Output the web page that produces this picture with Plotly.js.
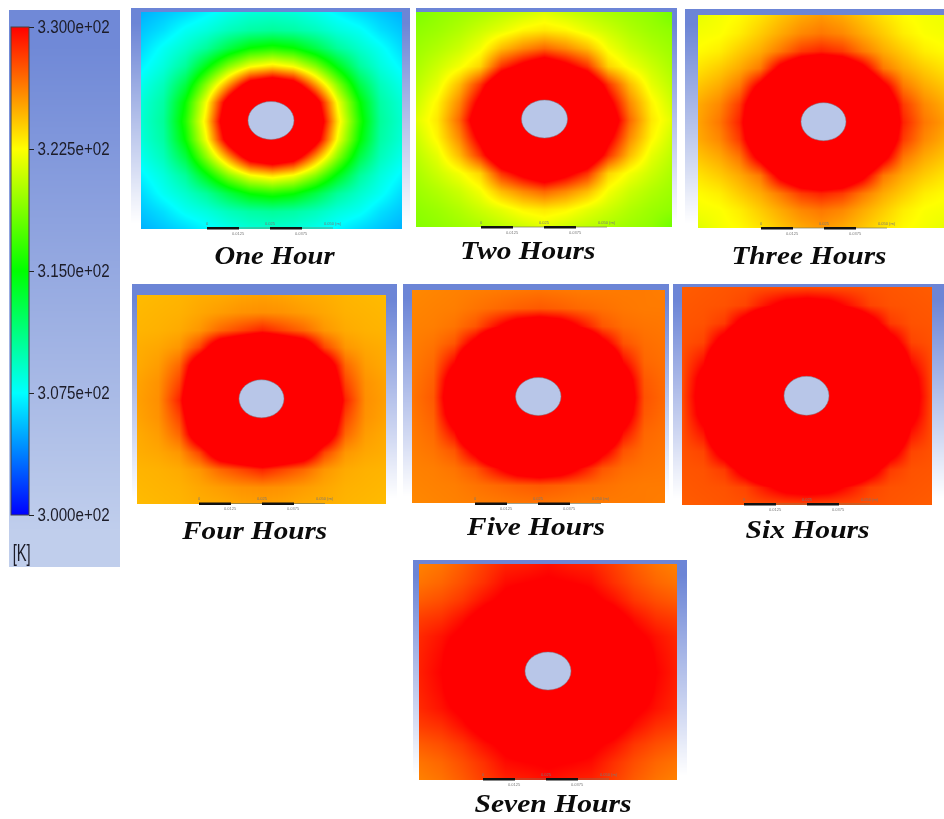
<!DOCTYPE html>
<html><head><meta charset="utf-8">
<script src="https://cdn.plot.ly/plotly-3.0.1.min.js"></script>
<style>html,body{margin:0;padding:0;background:#fff}#chart{width:944px;height:819px;filter:blur(0.45px)}</style>
</head><body><div id="chart"></div>
<script>
// Temperature fields in kelvin (13 x 13 nodes, top row first)
var gridNodes = [-1,-0.8333,-0.6667,-0.5,-0.3333,-0.1667,0,0.1667,0.3333,0.5,0.6667,0.8333,1];
var oneHour = [
[305.2,305.8,306.4,307.2,308,308.6,308.8,308.6,308,307.2,306.4,305.8,305.2],
[305.8,306.6,307.8,308.5,309.5,310.2,310.5,310.2,309.5,308.5,307.8,306.6,305.8],
[306.4,307.8,309,310.5,313,315.2,316,315.2,313,310.5,309,307.8,306.4],
[307.2,308.5,310.5,314.5,319,322.3,323.5,322.3,319,314.5,310.5,308.5,307.2],
[308,309.5,313,319,325.5,332,334,332,325.5,319,313,309.5,308],
[308.6,310.2,315.2,322.3,332,340,340,340,332,322.3,315.2,310.2,308.6],
[308.8,310.5,316,323.5,334,340,340,340,334,323.5,316,310.5,308.8],
[308.6,310.2,315.2,322.3,332,340,340,340,332,322.3,315.2,310.2,308.6],
[308,309.5,313,319,325.5,332,334,332,325.5,319,313,309.5,308],
[307.2,308.5,310.5,314.5,319,322.3,323.5,322.3,319,314.5,310.5,308.5,307.2],
[306.4,307.8,309,310.5,313,315.2,316,315.2,313,310.5,309,307.8,306.4],
[305.8,306.6,307.8,308.5,309.5,310.2,310.5,310.2,309.5,308.5,307.8,306.6,305.8],
[305.2,305.8,306.4,307.2,308,308.6,308.8,308.6,308,307.2,306.4,305.8,305.2]];
var twoHours = [
[318.7,319.2,319.6,320,320.5,321,321.6,321,320.5,320,319.6,319.2,318.4],
[319.2,319.6,320.2,321,321.8,322.8,323.2,322.8,321.8,321,320.2,319.6,319.2],
[319.6,320.2,321,322.2,324.5,326,327,326,324.5,322.2,321,320.2,319.6],
[320,321,322.2,323.8,328.5,331,333,331,328.5,323.8,322.2,321,320],
[320.5,321.8,324.5,328.5,334,338,340,338,334,328.5,324.5,321.8,320.5],
[321,322.8,326,331,338,343,345,343,338,331,326,322.8,321],
[321.6,323.2,327,333,340,345,345,345,340,333,327,323.2,321.6],
[321,322.8,326,331,338,343,345,343,338,331,326,322.8,321],
[320.5,321.8,324.5,328.5,334,338,340,338,334,328.5,324.5,321.8,320.5],
[320,321,322.2,323.8,328.5,331,333,331,328.5,323.8,322.2,321,320],
[319.6,320.2,321,322.2,324.5,326,327,326,324.5,322.2,321,320.2,319.6],
[319.2,319.6,320.2,321,321.8,322.8,323.2,322.8,321.8,321,320.2,319.6,319.2],
[318.9,319.2,319.6,320,320.5,321,321.6,321,320.5,320,319.6,319.2,318.2]];
var threeHours = [
[321.8,322.2,322.6,323.3,324.2,325,325.5,325,324.2,323.3,322.6,322.2,322],
[322.2,322.4,323,324,325,326,326.5,326,325,324,323,322.4,322.2],
[322.6,323,324,325,326.5,328.3,329,328.3,326.5,325,324,323,322.6],
[323.3,324,325,326.5,331,334,335,334,331,326.5,325,324,323.3],
[324.2,325,326.5,331,336,339,340,339,336,331,326.5,325,324.2],
[325,326,328.3,334,339,343,345,343,339,334,328.3,326,325],
[325.2,326.5,329,335,340,345,345,345,340,335,329,326.5,325.5],
[325,326,328.3,334,339,343,345,343,339,334,328.3,326,325],
[324.2,325,326.5,331,336,339,340,339,336,331,326.5,325,324.2],
[323.3,324,325,326.5,331,334,335,334,331,326.5,325,324,323.3],
[322.6,323,324,325,326.5,328.3,329,328.3,326.5,325,324,323,322.6],
[322.2,322.4,323,324,325,326,326.5,326,325,324,323,322.4,322.2],
[321.6,322.2,322.6,323.3,324.2,325,325.5,325,324.2,323.3,322.6,322.2,321.8]];
var fourHours = [
[324.5,324.6,324.7,324.9,325,325.2,325.3,325.2,325,324.9,324.7,324.6,324.5],
[324.6,324.7,324.8,325.1,325.4,325.7,325.8,325.7,325.4,325.1,324.8,324.7,324.6],
[324.7,324.8,325,325.6,327,328,329,328,327,325.6,325,324.8,324.7],
[324.9,325.1,325.6,328,333,335,337,335,333,328,325.6,325.1,324.9],
[325,325.4,327,333,337,340,342,340,337,333,327,325.4,325],
[325.2,325.7,328,335,340,344,345,344,340,335,328,325.7,325.2],
[325.3,325.8,329,337,342,345,345,345,342,337,329,325.8,325.3],
[325.2,325.7,328,335,340,344,345,344,340,335,328,325.7,325.2],
[325,325.4,327,333,337,340,342,340,337,333,327,325.4,325],
[324.9,325.1,325.6,328,333,335,337,335,333,328,325.6,325.1,324.9],
[324.7,324.8,325,325.6,327,328,329,328,327,325.6,325,324.8,324.7],
[324.6,324.7,324.8,325.1,325.4,325.7,325.8,325.7,325.4,325.1,324.8,324.7,324.6],
[324.5,324.6,324.7,324.9,325,325.2,325.3,325.2,325,324.9,324.7,324.6,324.5]];
var fiveHours = [
[326,326.1,326.2,326.3,326.4,326.5,326.6,326.5,326.4,326.4,326.4,326.4,326.3],
[326.1,326.2,326.3,326.6,326.9,327.2,327.4,327.2,326.9,326.7,326.5,326.4,326.4],
[326.2,326.3,326.6,327.5,329.7,332,333,332,329.7,327.5,326.8,326.6,326.5],
[326.3,326.6,327.5,331,336,338,339,338,336,331,327.6,326.8,326.6],
[326.4,326.9,329.7,336,340,342,343,342,340,336,329.7,327,326.7],
[326.5,327.2,332,338,342,345,345,345,342,338,332,327.4,326.8],
[326.6,327.4,333,339,343,345,345,345,343,339,333,327.6,326.9],
[326.5,327.2,332,338,342,345,345,345,342,338,332,327.4,326.8],
[326.4,326.9,329.7,336,340,342,343,342,340,336,329.7,327,326.7],
[326.3,326.6,327.5,331,336,338,339,338,336,331,327.6,326.8,326.6],
[326.2,326.3,326.6,327.5,329.7,332,333,332,329.7,327.5,326.8,326.6,326.5],
[326.1,326.2,326.3,326.6,326.9,327.2,327.4,327.2,326.9,326.7,326.5,326.4,326.4],
[326,326.1,326.2,326.3,326.4,326.5,326.6,326.5,326.4,326.4,326.4,326.4,326.3]];
var sixHours = [
[327.3,327.4,327.5,327.6,327.7,327.7,327.8,327.7,327.7,327.6,327.5,327.4,327.3],
[327.4,327.5,327.6,328,329.5,331,331.5,331,329.5,328,327.6,327.5,327.4],
[327.5,327.6,328.3,331.5,335,336,337,336,335,331.5,328.3,327.6,327.5],
[327.6,328,331.5,336,339,341,342,341,339,336,331.5,328,327.6],
[327.7,329.5,335,339,342,344,344,344,342,339,335,329.5,327.7],
[327.7,331,336,341,344,345,345,345,344,341,336,331,327.7],
[327.8,331.5,337,342,344,345,345,345,344,342,337,331.5,327.8],
[327.7,331,336,341,344,345,345,345,344,341,336,331,327.7],
[327.7,329.5,335,339,342,344,344,344,342,339,335,329.5,327.7],
[327.6,328,331.5,336,339,341,342,341,339,336,331.5,328,327.6],
[327.5,327.6,328.3,331.5,335,336,337,336,335,331.5,328.3,327.6,327.5],
[327.4,327.5,327.6,328,329.5,331,331.5,331,329.5,328,327.6,327.5,327.4],
[327.3,327.4,327.5,327.6,327.7,327.7,327.8,327.7,327.7,327.6,327.5,327.4,327.3]];
var sevenHours = [
[326.2,326.6,327.3,328.2,329,329.2,329.6,329.2,329,328.2,327.3,326.6,326.2],
[326.6,327,327.7,328.6,329.7,330,330.2,330,329.7,328.6,327.7,327,326.6],
[327.3,327.7,328.4,329.6,330.5,331.5,332,331.5,330.5,329.6,328.4,327.7,327.3],
[328.2,328.6,329.6,331,333,334,335,334,333,331,329.6,328.6,328.2],
[328.8,329.5,330.5,333,335,337,338,337,335,333,330.5,329.5,328.8],
[329,329.8,331.5,334,337,339,340,339,337,334,331.5,329.8,329],
[329.1,330,332,335,338,340,340,340,338,335,332,330,329.1],
[329,329.8,331.5,334,337,339,340,339,337,334,331.5,329.8,329],
[328.8,329.5,330.5,333,335,337,338,337,335,333,330.5,329.5,328.8],
[328.2,328.6,329.6,331,333,334,335,334,333,331,329.6,328.6,328.2],
[327.3,327.7,328.4,329.6,330.5,331.5,332,331.5,330.5,329.6,328.4,327.7,327.3],
[326.6,327,327.7,328.6,329.7,330,330.2,330,329.7,328.6,327.7,327,326.6],
[326.2,326.6,327.3,328.2,329,329.2,329.6,329.2,329,328.2,327.3,326.6,326.2]];

var panelNames = ["One Hour","Two Hours","Three Hours","Four Hours","Five Hours","Six Hours","Seven Hours"];
var panelFields = [oneHour,twoHours,threeHours,fourHours,fiveHours,sixHours,sevenHours];
var colorTicks = [300,307.5,315,322.5,330];
var colorTickText = ["3.000e+02","3.075e+02","3.150e+02","3.225e+02","3.300e+02"];
var scaleLabelsTop = ["0","0.025","0.050 (m)"];
var scaleLabelsBottom = ["0.0125","0.0375"];

// Page geometry in pixels
var plotBoxes = [[141,402,12,229],[416,672,12,227],[698,944,15,228],[137,386,295,504],[412,665,290,503],[682,932,287,505],[419,677,564,780]];
var backBoxes = [[131,410,8,238],[416,677,8,236],[685,944,9,238],[132,397,284,512],[403,669,284,510],[673,944,284,512],[413,687,560,790]];
var holes = [[271,120.5,23,19],[544.5,119,23,19],[823.5,121.7,22.5,19],[261.5,398.8,22.5,19],[538.3,396.5,22.7,19],[806.5,395.8,22.5,19.5],[548,671,23,19]];
var titleSpots = [[275,255],[527.5,250],[808.5,255],[253.5,530],[535,526],[807,529],[552.5,803]];
var titleWidths = [120,135,155,145,138,124,157];
var scaleSpots = [[207,228],[481,227],[761,228],[199,503.5],[475,503.5],[744,504],[483,779]];
var W = 944, H = 819, FONTSANS = "'Liberation Sans',Arial,sans-serif";
var rampPanel = [[0,'rgb(108,133,214)'],[1,'rgb(255,255,255)']];
var rampBar = [[0,'rgb(112,137,215)'],[1,'rgb(192,206,236)']];
var rampRows = [[0,0],[0.14,0.14],[0.29,0.29],[0.43,0.43],[0.57,0.57],[0.71,0.71],[0.86,0.86],[1,1]];

var data = [], layout = {
  width:W, height:H, margin:{l:0,r:0,t:0,b:0,autoexpand:false},
  paper_bgcolor:'#fff', plot_bgcolor:'rgba(0,0,0,0)', showlegend:false,
  xaxis:{domain:[0,1],range:[0,W],visible:false,fixedrange:true},
  yaxis:{domain:[0,1],range:[H,0],visible:false,fixedrange:true},
  coloraxis:{cmin:300,cmax:330,
    colorscale:[[0,'rgb(0,0,255)'],[0.25,'rgb(0,255,255)'],[0.5,'rgb(0,255,0)'],[0.75,'rgb(255,255,0)'],[1,'rgb(255,0,0)']],
    colorbar:{x:11/W,xanchor:'left',xpad:0,y:1-515/H,yanchor:'bottom',ypad:0,
      lenmode:'pixels',len:488,thicknessmode:'pixels',thickness:18,
      tickmode:'array',tickvals:colorTicks,ticktext:colorTickText,ticks:'outside',ticklen:5,tickwidth:1,tickcolor:'#222',
      tickfont:{family:FONTSANS,size:18,color:'#1c1c28'},outlinecolor:'#444',outlinewidth:1,borderwidth:0,bgcolor:'rgba(0,0,0,0)'}},
  shapes:[], annotations:[]
};

function backTrace(b, scale){
  var ys = [], step = (b[3]-b[2])/rampRows.length;
  for (var k=0;k<=rampRows.length;k++) ys.push(b[2]+k*step);
  data.push({type:'heatmap',xaxis:'x',yaxis:'y',x:[b[0],(b[0]+b[1])/2,b[1]],y:ys,z:rampRows,zmin:0,zmax:1,colorscale:scale,
    zsmooth:'best',showscale:false,hoverinfo:'skip'});
}
backTrace([9,120,10,567], rampBar);
backBoxes.forEach(function(b){backTrace(b, rampPanel);});

panelFields.forEach(function(field,i){
  var n = i+2, p = plotBoxes[i];
  layout['xaxis'+n] = {domain:[p[0]/W,p[1]/W],range:[-1,1],visible:false,anchor:'y'+n,fixedrange:true};
  layout['yaxis'+n] = {domain:[1-p[3]/H,1-p[2]/H],range:[1,-1],visible:false,anchor:'x'+n,fixedrange:true};
  data.push({type:'heatmap',xaxis:'x'+n,yaxis:'y'+n,x:gridNodes,y:gridNodes,z:field,
    coloraxis:'coloraxis',zsmooth:'best',hoverinfo:'skip'});
  var h = holes[i];
  layout.shapes.push({type:'circle',xref:'x',yref:'y',x0:h[0]-h[2],x1:h[0]+h[2],y0:h[1]-h[3],y1:h[1]+h[3],
    fillcolor:'rgb(184,198,232)',line:{color:'rgb(120,130,140)',width:0.5},layer:'above'});
  var s = scaleSpots[i];
  layout.shapes.push({type:'line',xref:'x',yref:'y',x0:s[0],x1:s[0]+126,y0:s[1],y1:s[1],line:{color:'rgba(120,120,90,0.7)',width:1},layer:'above'});
  [0,63].forEach(function(o){
    layout.shapes.push({type:'rect',xref:'x',yref:'y',x0:s[0]+o,x1:s[0]+o+32,y0:s[1]-1,y1:s[1]+1.5,fillcolor:'#111',line:{width:0},layer:'above'});
  });
  scaleLabelsTop.forEach(function(t,k){
    layout.annotations.push({xref:'x',yref:'y',x:s[0]+k*63,y:s[1]-5,text:t,showarrow:false,font:{size:4,color:'#777',family:'Liberation Sans'}});
  });
  scaleLabelsBottom.forEach(function(t,k){
    layout.annotations.push({xref:'x',yref:'y',x:s[0]+31+k*63,y:s[1]+5,text:t,showarrow:false,font:{size:4,color:'#777',family:'Liberation Sans'}});
  });
  layout.annotations.push({xref:'x',yref:'y',x:titleSpots[i][0],y:titleSpots[i][1],text:panelNames[i],
    showarrow:false,font:{family:"'Liberation Serif',serif",size:26,color:'#0b0b0b',weight:700,style:'italic'}});
});
layout.annotations.push({xref:'x',yref:'y',x:21,y:552,text:'[K]',showarrow:false,font:{family:FONTSANS,size:24,color:'#1c1c28'}});

Plotly.newPlot('chart',data,layout,{staticPlot:true,displayModeBar:false}).then(function(){
  // The reference's lettering is stretched: fit each real text to its width there
  function fit(el,w){el.setAttribute('textLength',w);el.setAttribute('lengthAdjust','spacingAndGlyphs');}
  document.querySelectorAll('.colorbar text').forEach(function(t){ if(colorTickText.indexOf(t.textContent)>=0) fit(t,72); });
  document.querySelectorAll('.annotation-text').forEach(function(t){
    var i = panelNames.indexOf(t.textContent);
    if(i>=0) fit(t,titleWidths[i]);
    if(t.textContent==='[K]') fit(t,18);
  });
});
</script></body></html>
